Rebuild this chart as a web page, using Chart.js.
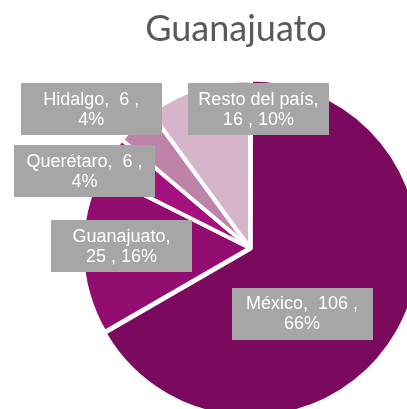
<!DOCTYPE html>
<html lang="es">
<head>
<meta charset="UTF-8">
<title>Guanajuato</title>
<script src="https://cdn.jsdelivr.net/npm/chart.js"></script>
<style>
    body { margin: 0; background: #fff; }
    #frame { position: relative; width: 407px; height: 409px; overflow: hidden; }
    #title {
        position: absolute; left: 0; width: 472px; top: 5px; text-align: center;
        font-family: Lato, sans-serif; font-size: 36px; color: #595959;
    }
    #pie { position: absolute; left: 0; top: 0; }
</style>
</head>
<body>
<div id="frame">
    <canvas id="pie" width="500" height="496"></canvas>
    <div id="title">Guanajuato</div>
</div>
<script>
const categories = ['México', 'Guanajuato', 'Querétaro', 'Hidalgo', 'Resto del país'];
const values = [106, 25, 6, 6, 16];
const colors = ['#7b0a5e', '#930d70', '#a4117f', '#bf83a9', '#d6b4c9'];
// label box centres, as fractions of the radius from the pie centre
const labelPos = [[0.31, 0.39], [-0.765, -0.01], [-0.985, -0.46], [-0.945, -0.83], [0.05, -0.83]];

const total = values.reduce((a, b) => a + b, 0);

// whole percents that add up to 100 (largest remainder)
function percents(vals) {
    const raw = vals.map(v => v / total * 100);
    const out = raw.map(Math.floor);
    let left = 100 - out.reduce((a, b) => a + b, 0);
    const order = raw.map((v, i) => i).sort((a, b) => (raw[b] - out[b]) - (raw[a] - out[a]));
    for (let k = 0; k < left; k++) out[order[k]]++;
    return out;
}
const pcts = percents(values);

function wrap(ctx, text, maxW) {
    const words = text.split(' ');
    const lines = [];
    let line = '';
    words.forEach((w, i) => {
        const test = i === 0 ? w : line + ' ' + w;
        if (line.trim() && w && ctx.measureText(test).width > maxW) {
            lines.push(line.trim());
            line = w;
        } else {
            line = test;
        }
    });
    lines.push(line.trim());
    return lines;
}

const boxLabels = {
    id: 'boxLabels',
    afterDatasetsDraw(chart) {
        const ctx = chart.ctx;
        const arcs = chart.getDatasetMeta(0).data;
        const cx = (chart.chartArea.left + chart.chartArea.right) / 2;
        const cy = (chart.chartArea.top + chart.chartArea.bottom) / 2;
        const r = arcs[0].outerRadius;
        ctx.save();
        ctx.font = '18px "Liberation Sans", Arial, sans-serif';
        ctx.textAlign = 'center';
        ctx.textBaseline = 'middle';
        arcs.forEach((arc, i) => {
            const text = categories[i] + ',  ' + values[i] + ' , ' + pcts[i] + '%';
            const lines = wrap(ctx, text, 123);
            const x = cx + labelPos[i][0] * r;
            const y = cy + labelPos[i][1] * r;
            const w = 141, h = 52;
            ctx.fillStyle = '#a6a6a6';
            ctx.fillRect(Math.round(x - w / 2), Math.round(y - h / 2), w, h);
            ctx.fillStyle = '#ffffff';
            lines.forEach((ln, k) => {
                ctx.fillText(ln, x, y + 1 + (k - (lines.length - 1) / 2) * 20);
            });
        });
        ctx.restore();
    }
};

new Chart(document.getElementById('pie'), {
    type: 'pie',
    data: {
        labels: categories,
        datasets: [{
            data: values,
            backgroundColor: colors,
            borderColor: '#ffffff',
            borderWidth: 4,
            offset: [4, 0, 0, 0, 0]
        }]
    },
    options: {
        responsive: false,
        animation: false,
        devicePixelRatio: 1,
        radius: 168,
        layout: { padding: 0 },
        plugins: {
            legend: { display: false },
            tooltip: { enabled: false },
            title: { display: false }
        }
    },
    plugins: [boxLabels]
});
</script>
</body>
</html>
